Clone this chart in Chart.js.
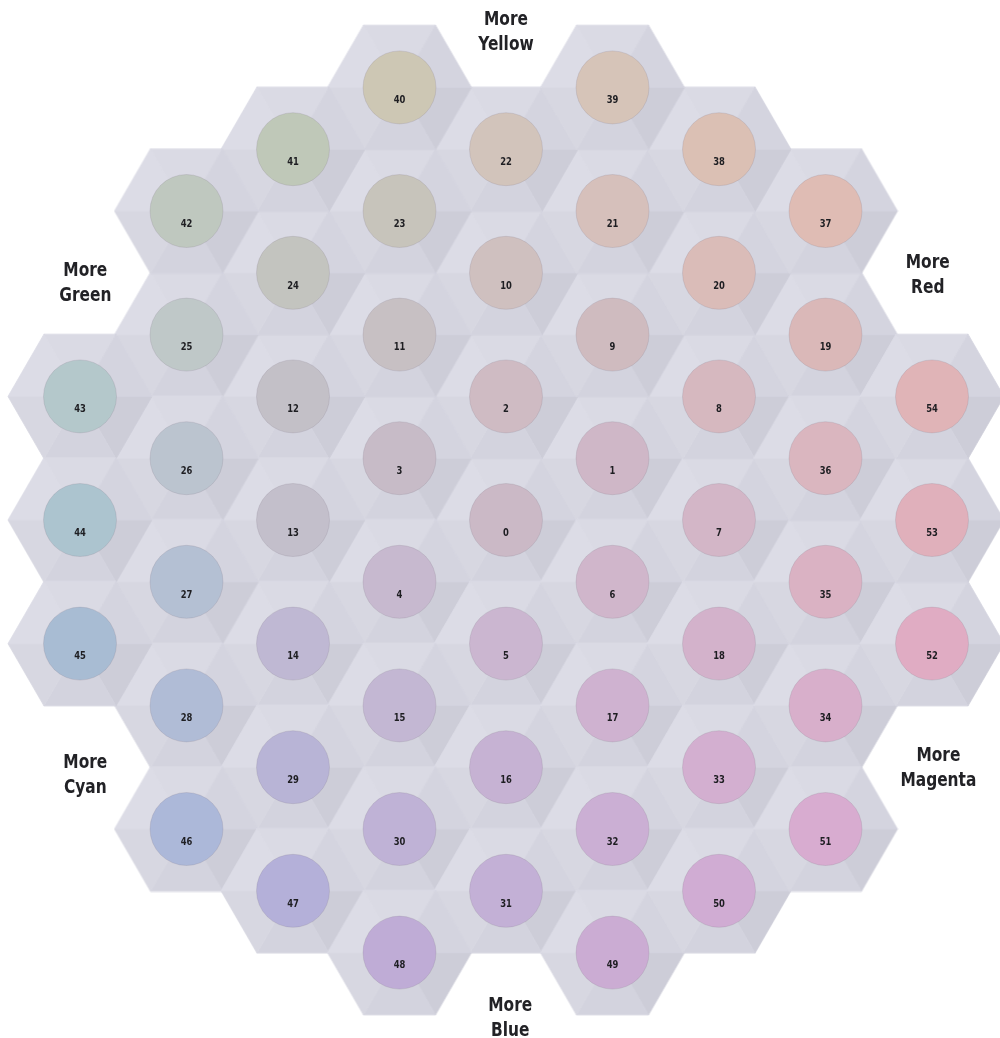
<!DOCTYPE html>
<html>
<head>
<meta charset="utf-8">
<script src="https://cdn.jsdelivr.net/npm/chart.js@4.4.1/dist/chart.umd.min.js"></script>
<style>
  html, body { margin: 0; padding: 0; background: #fff; }
  #wrap { width: 1000px; height: 1038px; }
</style>
</head>
<body>
<div id="wrap"><canvas id="ring" width="1000" height="1038"></canvas></div>
<script>
// patch numbers, hex column and half-row (0 at centre, up is positive)
const patchIds = [0,1,2,3,4,5,6,7,8,9,10,11,12,13,14,15,16,17,18,19,20,21,22,23,24,25,26,27,
  28,29,30,31,32,33,34,35,36,37,38,39,40,41,42,43,44,45,46,47,48,49,50,51,52,53,54];
const patchCol = [4,5,4,3,3,4,5,6,6,5,4,3,2,2,2,3,4,5,6,7,6,5,4,3,2,1,1,1,
  1,2,3,4,5,6,7,7,7,7,6,5,3,2,1,0,0,0,1,2,3,5,6,7,8,8,8];
const patchRow = [0,1,2,1,-1,-2,-1,0,2,3,4,3,2,0,-2,-3,-4,-3,-2,3,4,5,6,5,4,3,1,-1,
  -3,-4,-5,-6,-5,-4,-3,-1,1,5,6,7,7,6,5,2,0,-2,-5,-6,-7,-7,-6,-5,-2,0,2];
const patchColors = [
  "#cbb9c6","#cfb7c7","#cfbbc3","#c7bbc7","#c7b9cf","#cbb6d0","#d0b6cb","#d3b6c7","#d6b8bf","#cfbbbf",
  "#cfc0bf","#c7c0c3","#c3c0c7","#c3bfcb","#bfb8d3","#c3b7d3","#c6b2d3","#cfb2d0","#d3b2cb","#dab8b8",
  "#dabcb8","#d6c0bb","#d2c4bb","#c7c4bb","#c3c4bf","#bfc8c8","#bbc4cf","#b4c0d3","#b0bcd6","#b8b4d6",
  "#bfb2d6","#c3b0d6","#cbafd4","#d3afd0","#d8afcb","#dab2c3","#dab6bf","#dfbcb4","#dbc0b4","#d6c4b8",
  "#cdc7b4","#bfc8b8","#bfc8bf","#b4c8cb","#acc4cf","#a8bcd3","#acb8d9","#b4b0d9","#bfacd6","#cbacd3",
  "#d0acd3","#d8acd0","#e0acc3","#e0b0bb","#e0b4b7"
];

// direction captions
const captionText = [["More","Yellow"],["More","Green"],["More","Red"],["More","Cyan"],["More","Magenta"],["More","Blue"]];
const captionCol = [4.0, 0.05, 7.96, 0.05, 8.06, 4.04];
const captionRow = [7.9, 3.83, 3.96, -4.13, -4.01, -8.06];

const FONT = '"DejaVu Sans Condensed", "Liberation Sans", sans-serif';

// one raised hexagon tile, used as point style
function makeHex(R) {
  const c = document.createElement("canvas");
  const w = Math.ceil(R * 2) + 2, h = Math.ceil(R * Math.sqrt(3)) + 2;
  c.width = w; c.height = h;
  const g = c.getContext("2d");
  const cx = w / 2, cy = h / 2;
  const pts = [];
  for (let k = 0; k < 6; k++) {
    const a = k * Math.PI / 3;
    pts.push([cx + R * Math.cos(a), cy + R * Math.sin(a)]);
  }
  // facets: right->lower-right, bottom, lower-left, upper-left, top, upper-right
  const shades = ["#cdcdd8", "#d3d3de", "#d7d7e1", "#dcdce6", "#dadae4", "#d4d4df"];
  for (let k = 0; k < 6; k++) {
    const p = pts[k], q = pts[(k + 1) % 6];
    g.beginPath();
    g.moveTo(cx, cy);
    g.lineTo(p[0], p[1]);
    g.lineTo(q[0], q[1]);
    g.closePath();
    g.fillStyle = shades[k];
    g.fill();
    g.strokeStyle = shades[k];
    g.lineWidth = 0.8;
    g.stroke();
  }
  return c;
}

const hexTile = makeHex(72);

const hexPoints = patchIds.map((id, i) => ({x: patchCol[i], y: patchRow[i]}));

function narrowText(ctx, txt, x, y, sx) {
  ctx.save();
  ctx.translate(x, y);
  ctx.scale(sx, 1);
  ctx.fillText(txt, 0, 0);
  ctx.restore();
}

const labelPlugin = {
  id: "patchLabels",
  afterDatasetsDraw(chart) {
    const ctx = chart.ctx;
    const meta = chart.getDatasetMeta(0);
    ctx.save();
    ctx.fillStyle = "#1e1e22";
    ctx.textAlign = "center";
    ctx.textBaseline = "middle";
    ctx.font = "bold 11px " + FONT;
    meta.data.forEach((pt, i) => {
      narrowText(ctx, String(patchIds[i]), pt.x, pt.y + 13, 0.85);
    });
    const xs = chart.scales.x, ys = chart.scales.y;
    ctx.fillStyle = "#222226";
    ctx.font = "bold 19px " + FONT;
    captionText.forEach((lines, i) => {
      const px = xs.getPixelForValue(captionCol[i]);
      const py = ys.getPixelForValue(captionRow[i]);
      narrowText(ctx, lines[0], px, py - 12, 0.9);
      narrowText(ctx, lines[1], px, py + 13, 0.9);
    });
    ctx.restore();
  }
};

new Chart(document.getElementById("ring"), {
  type: "scatter",
  data: {
    datasets: [
      {
        label: "patches",
        data: hexPoints,
        order: 0,
        pointStyle: "circle",
        pointRadius: 36.5,
        backgroundColor: patchColors,
        borderColor: "rgba(120,110,130,0.18)",
        borderWidth: 1,
        clip: false
      },
      {
        label: "cells",
        data: hexPoints,
        order: 1,
        pointStyle: hexTile,
        pointRadius: 72,
        clip: false
      }
    ]
  },
  options: {
    responsive: false,
    animation: false,
    events: [],
    layout: {padding: 0, autoPadding: false},
    plugins: {legend: {display: false}, tooltip: {enabled: false}},
    scales: {
      x: {type: "linear", display: false, min: -80 / 106.5, max: 920 / 106.5},
      y: {type: "linear", display: false, min: -518 / 61.8, max: 520 / 61.8}
    }
  },
  plugins: [labelPlugin]
});
</script>
</body>
</html>
